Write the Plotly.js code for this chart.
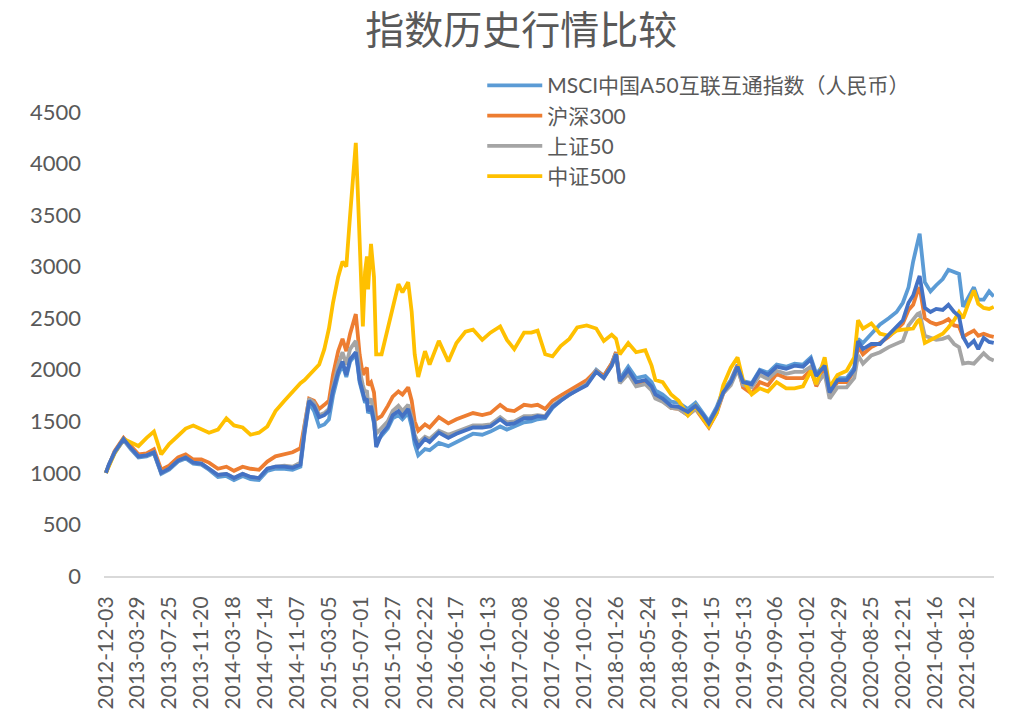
<!DOCTYPE html>
<html>
<head>
<meta charset="utf-8">
<script src="https://cdn.plot.ly/plotly-3.0.1.min.js"></script>
<style>html,body{margin:0;padding:0;background:#fff;}#chart{width:1028px;height:727px;}</style>
</head>
<body>
<div id="chart"></div>
<script>
const dates = [
'2012-12-03','2012-12-14','2013-01-04','2013-02-06','2013-03-05','2013-04-02','2013-05-02','2013-05-29','2013-06-25','2013-07-24',
'2013-08-26','2013-09-23','2013-10-21','2013-11-20','2013-12-18','2014-01-20','2014-02-20','2014-03-20','2014-04-21','2014-05-20',
'2014-06-20','2014-07-21','2014-08-20','2014-09-22','2014-10-22','2014-11-20','2014-12-05','2014-12-22','2015-01-09','2015-01-28',
'2015-02-16','2015-03-05','2015-03-20','2015-04-08','2015-04-24','2015-05-08','2015-05-22','2015-06-05','2015-06-12','2015-06-19',
'2015-06-26','2015-07-08','2015-07-16','2015-07-23','2015-07-27','2015-08-07','2015-08-18','2015-08-26','2015-09-15','2015-10-08',
'2015-10-26','2015-11-16','2015-12-01','2015-12-22','2016-01-04','2016-01-15','2016-01-28','2016-02-22','2016-03-10','2016-04-13',
'2016-05-18','2016-06-17','2016-07-20','2016-08-17','2016-09-20','2016-10-20','2016-11-25','2016-12-20','2017-01-16','2017-02-21',
'2017-03-20','2017-04-12','2017-05-10','2017-06-06','2017-07-06','2017-08-07','2017-09-05','2017-10-10','2017-11-14','2017-12-12',
'2018-01-10','2018-01-26','2018-02-09','2018-03-12','2018-04-10','2018-05-14','2018-06-06','2018-06-20','2018-07-17','2018-08-17',
'2018-09-14','2018-10-18','2018-11-15','2018-12-14','2019-01-03','2019-02-01','2019-02-25','2019-03-25','2019-04-19','2019-05-09',
'2019-06-10','2019-07-10','2019-08-09','2019-09-10','2019-10-15','2019-11-15','2019-12-16','2020-01-14','2020-02-03','2020-03-05',
'2020-03-23','2020-04-21','2020-05-25','2020-06-22','2020-07-06','2020-07-24','2020-08-24','2020-09-25','2020-10-27','2020-11-25',
'2020-12-18','2021-01-08','2021-01-25','2021-02-10','2021-02-18','2021-03-09','2021-03-30','2021-04-20','2021-05-14','2021-06-04',
'2021-06-25','2021-07-13','2021-07-28','2021-08-16','2021-09-06','2021-09-22','2021-10-12','2021-11-01','2021-11-18'
];

const msciA50 = [
1000,1080,1190,1320,1230,1150,1160,1190,990,1030,
1110,1140,1090,1080,1030,960,970,930,970,940,
930,1020,1040,1040,1030,1060,1380,1680,1600,1450,
1470,1520,1750,1950,2050,1930,2080,2120,2150,2030,
1880,1760,1680,1700,1580,1620,1480,1300,1360,1430,
1530,1560,1520,1580,1450,1280,1170,1230,1220,1290,
1260,1300,1350,1380,1370,1400,1450,1420,1450,1490,
1500,1520,1530,1630,1700,1760,1810,1870,2000,1940,
2060,2170,1910,2030,1920,1940,1880,1800,1760,1690,
1680,1620,1680,1580,1500,1640,1800,1900,2050,1890,
1870,2000,1970,2050,2030,2060,2050,2120,1960,2060,
1800,1920,1920,2020,2300,2260,2350,2440,2500,2560,
2650,2800,3050,3250,3320,2850,2760,2820,2880,2970,
2950,2930,2610,2700,2800,2680,2680,2760,2710
];

const hs300 = [
1000,1080,1210,1340,1260,1180,1190,1230,1030,1070,
1150,1180,1130,1130,1100,1040,1060,1020,1060,1040,
1030,1110,1160,1180,1200,1240,1480,1720,1700,1620,
1660,1700,1950,2180,2300,2180,2350,2500,2540,2350,
2150,1950,2000,2020,1850,1880,1780,1520,1550,1650,
1740,1790,1760,1830,1700,1500,1410,1470,1440,1540,
1480,1520,1550,1580,1560,1580,1660,1610,1600,1660,
1650,1660,1620,1700,1750,1800,1850,1900,1990,1940,
2060,2170,1900,1980,1870,1880,1830,1730,1700,1630,
1620,1560,1620,1520,1440,1580,1770,1880,2040,1830,
1770,1880,1850,1960,1920,1920,1920,2000,1840,2000,
1770,1880,1880,1990,2230,2150,2220,2260,2320,2390,
2450,2580,2630,2760,2800,2500,2460,2440,2460,2490,
2430,2420,2320,2350,2380,2330,2350,2330,2320
];

const sz50 = [
1000,1080,1200,1320,1240,1160,1170,1200,1000,1040,
1120,1150,1100,1090,1040,980,990,950,990,960,
950,1040,1060,1070,1060,1100,1450,1720,1680,1560,
1580,1620,1830,2050,2170,2050,2200,2250,2280,2150,
2000,1850,1780,1800,1680,1720,1580,1380,1430,1500,
1600,1650,1600,1660,1540,1370,1290,1350,1330,1410,
1370,1400,1430,1460,1460,1470,1540,1490,1500,1550,
1550,1560,1550,1650,1710,1760,1810,1860,1990,1920,
2040,2160,1870,1960,1840,1860,1800,1720,1690,1630,
1620,1560,1620,1540,1470,1600,1770,1850,2000,1850,
1830,1950,1910,1990,1960,1980,1980,2030,1860,1960,
1720,1830,1830,1920,2140,2060,2140,2170,2220,2250,
2280,2430,2490,2540,2550,2330,2310,2290,2300,2320,
2250,2220,2060,2070,2060,2100,2160,2110,2090
];

const zz500 = [
1000,1060,1190,1330,1300,1260,1340,1400,1180,1280,
1360,1430,1460,1420,1390,1420,1530,1460,1440,1370,
1390,1450,1600,1700,1790,1870,1900,1950,2000,2050,
2200,2400,2650,2900,3050,3000,3500,4000,4200,3750,
3200,2420,2950,3100,2780,3220,2900,2150,2150,2400,
2620,2830,2750,2850,2560,2150,1930,2180,2050,2280,
2080,2260,2370,2390,2290,2360,2420,2290,2200,2360,
2360,2380,2150,2130,2230,2300,2410,2430,2400,2280,
2340,2300,2150,2260,2170,2190,2040,1900,1880,1760,
1700,1560,1650,1520,1450,1580,1850,2020,2120,1900,
1760,1820,1790,1880,1820,1820,1840,1990,1860,2120,
1830,1950,1990,2120,2480,2400,2450,2350,2330,2380,
2390,2400,2400,2470,2490,2260,2290,2320,2350,2410,
2480,2560,2500,2640,2770,2640,2600,2590,2610
];

const series5 = [
1000,1080,1200,1330,1240,1160,1170,1200,1000,1040,
1120,1150,1100,1090,1040,980,990,950,990,960,
950,1040,1060,1060,1050,1080,1400,1700,1650,1540,
1560,1600,1800,1980,2080,1950,2100,2150,2170,2050,
1900,1780,1700,1720,1600,1650,1500,1250,1380,1450,
1560,1600,1550,1620,1500,1330,1250,1330,1300,1390,
1340,1380,1410,1440,1440,1450,1520,1470,1480,1530,
1530,1550,1540,1640,1700,1760,1800,1850,1980,1920,
2040,2150,1890,2000,1880,1900,1840,1760,1720,1650,
1640,1590,1650,1560,1480,1620,1780,1880,2030,1880,
1860,1990,1950,2030,2010,2040,2030,2100,1940,2040,
1780,1900,1900,2000,2280,2200,2250,2250,2340,2420,
2480,2650,2720,2850,2910,2600,2560,2590,2580,2630,
2560,2520,2320,2230,2280,2200,2310,2270,2260
];

const xTickLabels = [
'2012-12-03','2013-03-29','2013-07-25','2013-11-20','2014-03-18','2014-07-14','2014-11-07',
'2015-03-05','2015-07-01','2015-10-27','2016-02-22','2016-06-17','2016-10-13','2017-02-08',
'2017-06-06','2017-10-02','2018-01-26','2018-05-24','2018-09-19','2019-01-15','2019-05-13',
'2019-09-06','2020-01-02','2020-04-29','2020-08-25','2020-12-21','2021-04-16','2021-08-12'
];
const yTicks = [0,500,1000,1500,2000,2500,3000,3500,4000,4500];

const names = ['MSCI中国A50互联互通指数（人民币）','沪深300','上证50','中证500','其他指数'];
const colors = ['#5B9BD5','#ED7D31','#A5A5A5','#FFC000','#4472C4'];
const values = [msciA50, hs300, sz50, zz500, series5];

const FONT = 'Lato, "Noto Sans CJK SC", sans-serif';
const traces = values.map((v, i) => ({
  type: 'scatter', mode: 'lines', x: dates, y: v, name: names[i],
  line: {color: colors[i], width: 3.8},
  showlegend: i < 4
}));

const layout = {
  width: 1028, height: 727,
  paper_bgcolor: '#ffffff', plot_bgcolor: '#ffffff',
  margin: {l: 104, r: 34, t: 112, b: 151},
  font: {family: FONT, color: '#595959', size: 22},
  title: {text: '指数历史行情比较', font: {family: '"Noto Sans CJK SC", sans-serif', size: 39, color: '#595959'},
          x: 0.507, xref: 'container', y: 0.958, yref: 'container', yanchor: 'middle'},
  xaxis: {
    type: 'date', range: ['2012-11-26', '2021-11-19'],
    tickmode: 'array', tickvals: xTickLabels, ticktext: xTickLabels,
    tickangle: -90, showgrid: false, zeroline: false,
    showline: true, linecolor: '#D9D9D9', linewidth: 2,
    ticks: '', ticklabelstandoff: 10,
    tickfont: {family: FONT, size: 21, color: '#595959'}
  },
  yaxis: {
    range: [0, 4500], tickmode: 'array', tickvals: yTicks,
    showgrid: false, zeroline: false, showline: false, ticks: '',
    ticklabelstandoff: 22,
    tickfont: {family: FONT, size: 22, color: '#595959'}
  },
  legend: {
    x: 0.425, xanchor: 'left', y: 1.101, yanchor: 'top',
    bgcolor: 'rgba(0,0,0,0)', font: {family: FONT, size: 21, color: '#595959'},
    tracegroupgap: 0, itemwidth: 55
  },
  showlegend: true
};

Plotly.newPlot('chart', traces, layout, {displayModeBar: false, staticPlot: true});
</script>
</body>
</html>
